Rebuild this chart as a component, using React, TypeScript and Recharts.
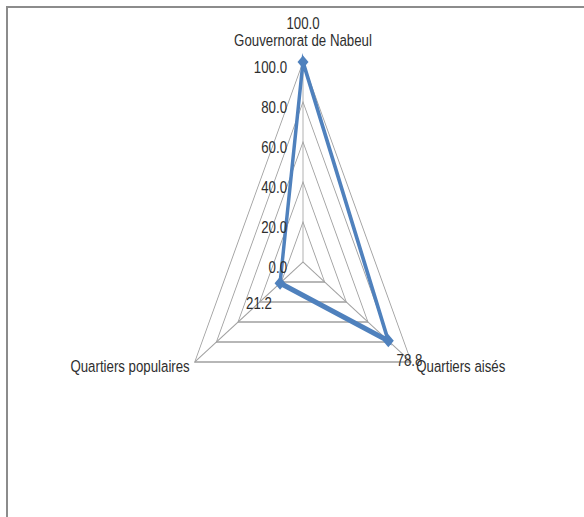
import React from 'react';
import { RadarChart, Radar, PolarGrid, PolarAngleAxis, PolarRadiusAxis } from 'recharts';

const categories = ['Gouvernorat de Nabeul', 'Quartiers aisés', 'Quartiers populaires'];
const values = [100.0, 78.8, 21.2];
const radiusDomain = [0, 100];
const radiusTickCount = 6;

const data = categories.map((name, i) => ({ name, value: values[i] }));

// chart geometry (unscaled svg space), squeezed horizontally afterwards
const W = 1000;
const H = 517;
const CX = 500;
const CY = 262;
const R = 200;
const SX = 0.625; // horizontal squeeze of the whole plot
const TEXT_NET = 0.78; // net horizontal scale of the labels
const K = TEXT_NET / SX; // counter-scale applied to text inside the svg

const BLUE = '#4f81bd';
const FONT = '"Liberation Sans", Arial, sans-serif';
const FONT_SIZE = 17;
const TEXT = '#2e2e2e';

const Squeezed = ({ x, y, children }: { x: number; y: number; children: React.ReactNode }) => (
  <g transform={`translate(${x},${y}) scale(${K},1)`}>{children}</g>
);

const AngleTick = (props: any) => {
  const { x, y, payload } = props;
  const dx = x - CX;
  const dy = y - CY;
  const d = Math.hypot(dx, dy) || 1;
  const vx = CX + (dx / d) * R;
  const vy = CY + (dy / d) * R;
  let anchor: 'middle' | 'start' | 'end' = 'middle';
  let ox = 0;
  let oy = -16;
  if (dx > 1) {
    anchor = 'start';
    ox = 5 / TEXT_NET;
    oy = 10;
  } else if (dx < -1) {
    anchor = 'end';
    ox = -5 / TEXT_NET;
    oy = 10;
  }
  return (
    <Squeezed x={vx} y={vy}>
      <text x={ox} y={oy} textAnchor={anchor} fontFamily={FONT} fontSize={FONT_SIZE} fill={TEXT}>
        {payload.value}
      </text>
    </Squeezed>
  );
};

const RadiusTick = (props: any) => {
  const { x, y, payload } = props;
  return (
    <Squeezed x={x} y={y}>
      <text x={-16 / TEXT_NET} y={10.5} textAnchor="end" fontFamily={FONT} fontSize={FONT_SIZE} fill={TEXT}>
        {Number(payload.value).toFixed(1)}
      </text>
    </Squeezed>
  );
};

// diamond marker plus the value label pushed outwards along the axis
const PointMark = (props: any) => {
  const { cx, cy, index } = props;
  const dx = cx - CX;
  const dy = cy - CY;
  const d = Math.hypot(dx, dy) || 1;
  const lx = cx + (dx / d) * 39;
  const ly = cy + (dy / d) * 39;
  return (
    <g key={`pt-${index}`}>
      <polygon
        points={`${cx},${cy - 6.5} ${cx + 8.8},${cy} ${cx},${cy + 6.5} ${cx - 8.8},${cy}`}
        fill={BLUE}
        stroke="none"
      />
      <Squeezed x={lx} y={ly}>
        <text x={0} y={6} textAnchor="middle" fontFamily={FONT} fontSize={FONT_SIZE} fill={TEXT}>
          {values[index].toFixed(1)}
        </text>
      </Squeezed>
    </g>
  );
};

export default function App() {
  return (
    <div style={{ position: 'absolute', left: 0, top: 0, width: 584, height: 517, overflow: 'hidden', background: '#fff' }}>
      <div
        style={{
          position: 'absolute',
          left: 6,
          top: 6,
          width: 700,
          height: 700,
          borderTop: '2px solid #8c8c8c',
          borderLeft: '2px solid #8c8c8c',
        }}
      />
      <div
        style={{
          position: 'absolute',
          left: 303 - CX,
          top: 262 - CY,
          width: W,
          height: H,
          transform: `scaleX(${SX})`,
          transformOrigin: `${CX}px ${CY}px`,
        }}
      >
        <RadarChart width={W} height={H} cx={CX} cy={CY} outerRadius={R} data={data}>
          <PolarGrid gridType="polygon" stroke="#a0a0a0" strokeWidth={1.3} />
          <PolarAngleAxis dataKey="name" tick={AngleTick} tickLine={false} axisLine={false} />
          <PolarRadiusAxis
            angle={90}
            domain={radiusDomain}
            tickCount={radiusTickCount}
            tick={RadiusTick}
            axisLine={false}
            tickLine={false}
          />
          <Radar
            dataKey="value"
            stroke={BLUE}
            strokeWidth={5.5}
            fill="none"
            fillOpacity={0}
            dot={PointMark}
            isAnimationActive={false}
          />
        </RadarChart>
      </div>
    </div>
  );
}
